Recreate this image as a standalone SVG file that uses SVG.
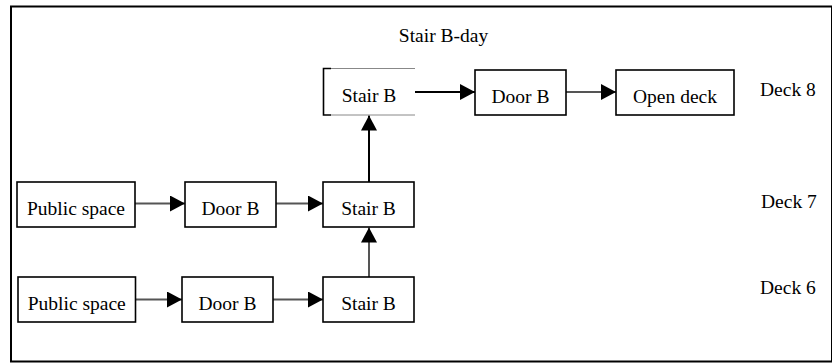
<svg xmlns="http://www.w3.org/2000/svg" width="832" height="363" viewBox="0 0 832 363">
<defs>
<style>
.box{fill:#fff;stroke:#000;stroke-width:1.6}
.t{font-family:"Liberation Serif","Times New Roman",serif;font-size:19.5px;fill:#000;text-anchor:middle}
.lbl{font-family:"Liberation Serif","Times New Roman",serif;font-size:19.5px;fill:#000}
.c{fill:none;stroke-width:2}
.blk{stroke:#000}
.gry{stroke:#555}
</style>
<marker id="ah" markerUnits="userSpaceOnUse" markerWidth="16" markerHeight="16" viewBox="0 0 15 16" refX="15" refY="8" orient="auto">
<path d="M0,0 L15,8 L0,16 Z" fill="#000"/>
</marker>
</defs>
<rect x="11" y="6.5" width="821" height="355" fill="#fff" stroke="#000" stroke-width="2"/>
<text class="t" x="443.5" y="42">Stair B-day</text>
<g id="connectors">
<line class="c blk" x1="415" y1="92" x2="475" y2="92" marker-end="url(#ah)"/>
<line class="c gry" x1="566" y1="92" x2="616" y2="92" marker-end="url(#ah)"/>
<line class="c gry" x1="135" y1="203.5" x2="185" y2="203.5" marker-end="url(#ah)"/>
<line class="c gry" x1="276" y1="203.5" x2="323" y2="203.5" marker-end="url(#ah)"/>
<line class="c gry" x1="135.5" y1="299.5" x2="182" y2="299.5" marker-end="url(#ah)"/>
<line class="c gry" x1="273" y1="299.5" x2="323" y2="299.5" marker-end="url(#ah)"/>
<line class="c gry" x1="369" y1="277" x2="369" y2="227.5" marker-end="url(#ah)"/>
<line class="c blk" x1="369" y1="182" x2="369" y2="115.5" marker-end="url(#ah)"/>
</g>
<g id="stair8">
<path d="M331,68.5 H415 M331,115 H415" fill="none" stroke="#888" stroke-width="1"/>
<path d="M331,68.5 H323.5 V115 H331" fill="none" stroke="#000" stroke-width="1.6"/>
<text class="t" x="369" y="101.5">Stair B</text>
</g>
<g id="door8">
<rect class="box" x="475" y="70" width="91" height="45"/>
<text class="t" x="520.5" y="102.5">Door B</text>
</g>
<g id="open8">
<rect class="box" x="616" y="70" width="118" height="45"/>
<text class="t" x="675" y="102.5">Open deck</text>
</g>
<g id="public7">
<rect class="box" x="17" y="182" width="118" height="45"/>
<text class="t" x="76" y="214.5">Public space</text>
</g>
<g id="door7">
<rect class="box" x="185" y="182" width="91" height="45"/>
<text class="t" x="230.5" y="214.5">Door B</text>
</g>
<g id="stair7">
<rect class="box" x="323" y="182" width="91" height="45"/>
<text class="t" x="368.5" y="214.5">Stair B</text>
</g>
<g id="public6">
<rect class="box" x="18" y="277" width="117.5" height="45"/>
<text class="t" x="76.75" y="309.5">Public space</text>
</g>
<g id="door6">
<rect class="box" x="182" y="277" width="91" height="45"/>
<text class="t" x="227.5" y="309.5">Door B</text>
</g>
<g id="stair6">
<rect class="box" x="323" y="277" width="91" height="45"/>
<text class="t" x="368.5" y="309.5">Stair B</text>
</g>
<text class="lbl" x="760" y="96">Deck 8</text>
<text class="lbl" x="761" y="208">Deck 7</text>
<text class="lbl" x="760" y="294">Deck 6</text>
</svg>
